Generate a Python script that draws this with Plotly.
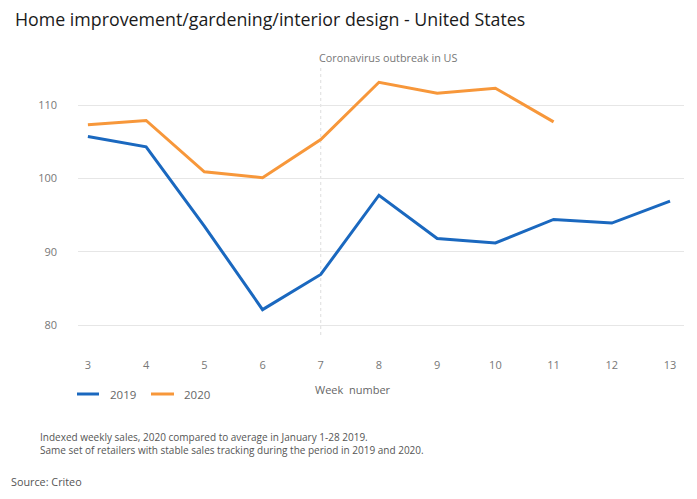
import plotly.graph_objects as go

weeks = [3, 4, 5, 6, 7, 8, 9, 10, 11, 12, 13]
sales_2019 = [105.7, 104.3, 93.5, 82.1, 86.9, 97.7, 91.8, 91.2, 94.4, 93.9, 96.9]
weeks_2020 = [3, 4, 5, 6, 7, 8, 9, 10, 11]
sales_2020 = [107.3, 107.9, 100.9, 100.1, 105.3, 113.1, 111.6, 112.3, 107.7]
y_ticks = [80, 90, 100, 110]
outbreak_week = 7
series_names = ["2019", "2020"]
series_colors = ["#1a68bf", "#f7973a"]

FONT = "Open Sans"
OFF = 8  # page body margin offset
W, H = 697 - OFF, 499 - OFF
L, T = 78 - OFF, 68 - OFF
R = W - (684 - OFF)
B = H - (335 - OFF)
ph = H - T - B
pw = W - L - R

def py(y):
    return (H - B - (y - OFF)) / ph

def px(x):
    return (x - OFF - L) / pw

fig = go.Figure()
fig.add_trace(go.Scatter(x=weeks, y=sales_2019, mode="lines", name=series_names[0],
                         line=dict(color=series_colors[0], width=3)))
fig.add_trace(go.Scatter(x=weeks_2020, y=sales_2020, mode="lines", name=series_names[1],
                         line=dict(color=series_colors[1], width=3)))

fig.add_shape(type="line", x0=outbreak_week, x1=outbreak_week, xref="x", yref="paper",
              y0=0, y1=1, line=dict(color="#dddddd", width=1, dash="dot"), layer="below")

# custom legend
legend_x = [(77, 99, 108), (151, 174, 182)]
for (x0, x1, xt), name, col in zip(legend_x, series_names, series_colors):
    fig.add_shape(type="line", xref="paper", yref="paper", x0=px(x0), x1=px(x1),
                  y0=py(394), y1=py(394), line=dict(color=col, width=3))
    fig.add_annotation(text=name, xref="paper", yref="paper", x=px(xt), y=py(394),
                       xanchor="left", yanchor="middle", showarrow=False,
                       font=dict(size=11.5, color="#666666"))

fig.update_layout(
    width=W, height=H,
    margin=dict(l=L, r=R, t=T, b=B),
    plot_bgcolor="white", paper_bgcolor="white",
    font=dict(family=FONT, color="#777777", size=11),
    title=dict(text="Home improvement/gardening/interior design - United States",
               x=(15 - OFF) / W, xanchor="left", y=1 - (20 - OFF) / H, yanchor="middle",
               font=dict(family=FONT, size=17.8, color="#1a1a1a")),
    xaxis=dict(range=[2.83, 13.24], tickvals=weeks, showgrid=False, zeroline=False,
               showline=False, ticks="", ticklabelstandoff=22,
               tickfont=dict(size=11, color="#777777")),
    yaxis=dict(range=[78.64, 115.05], tickvals=y_ticks, showgrid=True,
               gridcolor="#e6e6e6", gridwidth=1, zeroline=False, showline=False,
               ticks="", ticklabelstandoff=20, tickfont=dict(size=11, color="#777777")),
    showlegend=False,
)

ann = [
    dict(text="Coronavirus outbreak in US", x=outbreak_week, xref="x", y=py(58), yref="paper",
         xanchor="left", yanchor="middle", xshift=-4, showarrow=False,
         font=dict(size=10.8, color="#777777")),
    dict(text="Week  number", x=px(353), xref="paper", y=py(389), yref="paper",
         xanchor="center", yanchor="middle", showarrow=False, font=dict(size=11, color="#666666")),
    dict(text="Indexed weekly sales, 2020 compared to average in January 1-28 2019.<br>"
              "Same set of retailers with stable sales tracking during the period in 2019 and 2020.",
         x=px(38), xref="paper", y=py(443), yref="paper", align="left",
         xanchor="left", yanchor="middle", showarrow=False, font=dict(size=10, color="#555555")),
    dict(text="Source: Criteo", x=px(9), xref="paper", y=py(481), yref="paper",
         xanchor="left", yanchor="middle", showarrow=False, font=dict(size=10.8, color="#555555")),
]
for a in ann:
    fig.add_annotation(**a)

fig.write_html("out.html")
